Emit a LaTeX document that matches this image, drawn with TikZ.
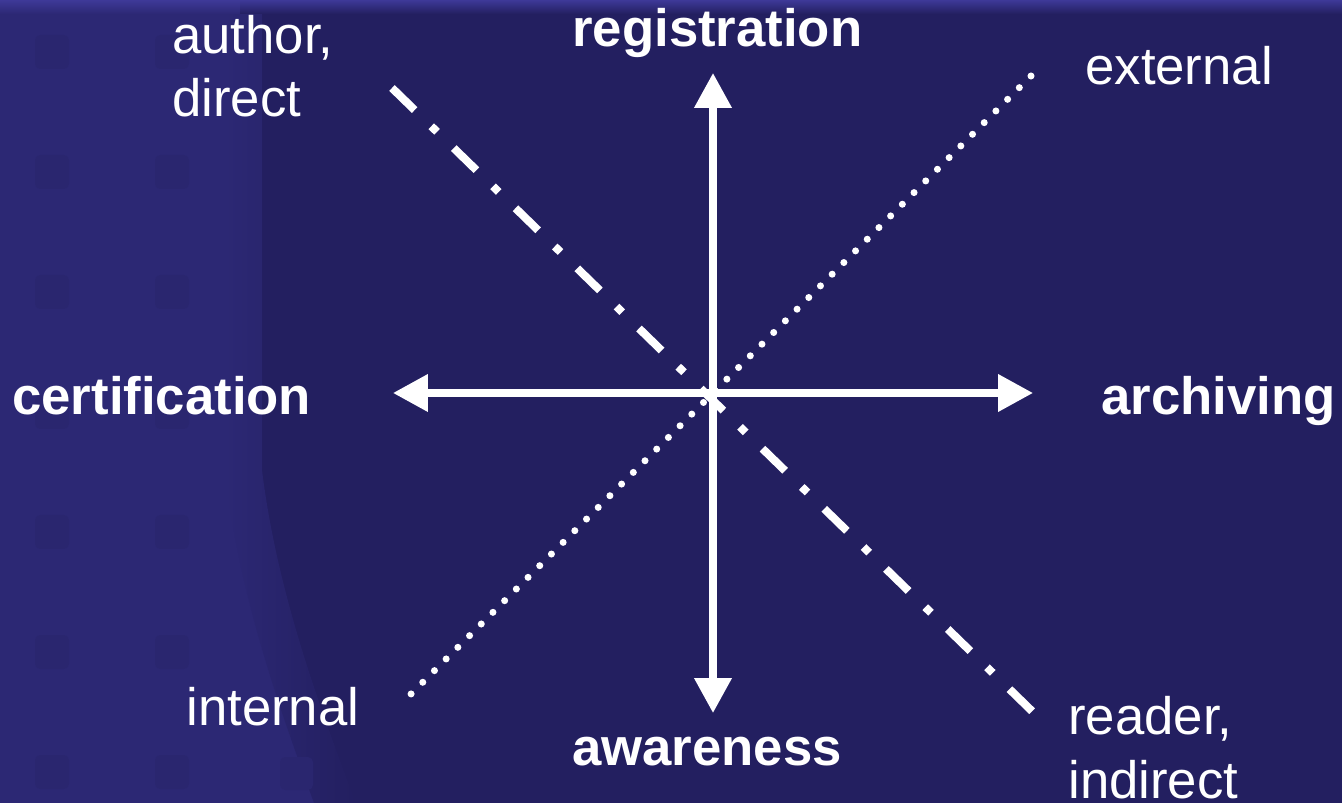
\documentclass[tikz,border=0pt]{standalone}
\usepackage{fontspec}
\setmainfont{Liberation Sans}
\usetikzlibrary{arrows.meta}

\definecolor{slidebg}{RGB}{35,31,96}
\definecolor{slidepanel}{RGB}{44,40,116}
\definecolor{slideband}{RGB}{62,57,152}
\definecolor{slidebox}{RGB}{42,38,111}

\tikzset{
  axis/.style={white, line width=4pt, -{Triangle[width=20.5pt,length=19.9pt]}},
  dashdotline/.style={white, line width=4.55pt, dash pattern=on 18pt off 13.2pt on 4.55pt off 13.3pt},
  dotline/.style={white, line width=4pt, line cap=round, dash pattern=on 0pt off 9.4pt},
  pole/.style={text=white, font=\bfseries\fontsize{30}{36}\selectfont, inner sep=0pt, anchor=base west},
  extreme/.style={text=white, font=\fontsize{30}{36.4}\selectfont, inner sep=0pt, anchor=base west, align=left},
}

\begin{document}
\begin{tikzpicture}[x=0.02cm, y=-0.02cm]
  \useasboundingbox (0,0) rectangle (1342,803);

  % Slide background
  \fill[slidebg] (0,0) rectangle (1342,803);
  \fill[slidepanel] (0,0) -- (226,0) -- (226,470) .. controls (240,600) and (285,720) .. (315,803) -- (0,803) -- cycle;
  \shade[left color=slidepanel, right color=slidebg] (225,0) -- (262,0) -- (262,470) .. controls (278,600) and (325,720) .. (356,803) -- (314,803) .. controls (284,720) and (239,600) .. (225,470) -- cycle;
  \foreach \y in {52,172,292,412,532,652,772}
    \foreach \x in {52,172}
      \fill[slidebox, rounded corners=3] (\x-17,\y-17) rectangle (\x+17,\y+17);
  \fill[slidebox, rounded corners=3] (280,757) rectangle (313,790);
  \shade[top color=slideband, bottom color=slidepanel] (0,0) rectangle (240,14);
  \shade[top color=slideband, bottom color=slidebg] (240,0) rectangle (1342,14);

  % Centre and ends
  \coordinate (o) at (713,393);
  \coordinate (regtip) at (713,73);
  \coordinate (awatip) at (713,713);
  \coordinate (certip) at (393,393);
  \coordinate (arctip) at (1033,393);
  \coordinate (authend) at (392,88);
  \coordinate (readend) at (1036,715);
  \coordinate (extend) at (1031,76);
  \coordinate (intend) at (408,697);

  % Diagonals
  \draw[dashdotline] (authend) -- (readend);
  \draw[dotline] (extend) -- (intend);

  % Axes
  \draw[axis] (o) -- (regtip);
  \draw[axis] (o) -- (awatip);
  \draw[axis] (o) -- (certip);
  \draw[axis] (o) -- (arctip);

  % Labels (two-line labels sit on their last line)
  \node[pole] (reg) at (572,47) {registration};
  \node[pole] (cert) at (12,415) {certification};
  \node[pole] (arch) at (1101,415) {archiving};
  \node[pole] (awa) at (572,765) {awareness};
  \node[extreme] (auth) at (172,117) {author,\\direct};
  \node[extreme] (ext) at (1085,85) {external};
  \node[extreme] (int) at (186,725) {internal};
  \node[extreme] (read) at (1068,798) {reader,\\indirect};
\end{tikzpicture}
\end{document}
